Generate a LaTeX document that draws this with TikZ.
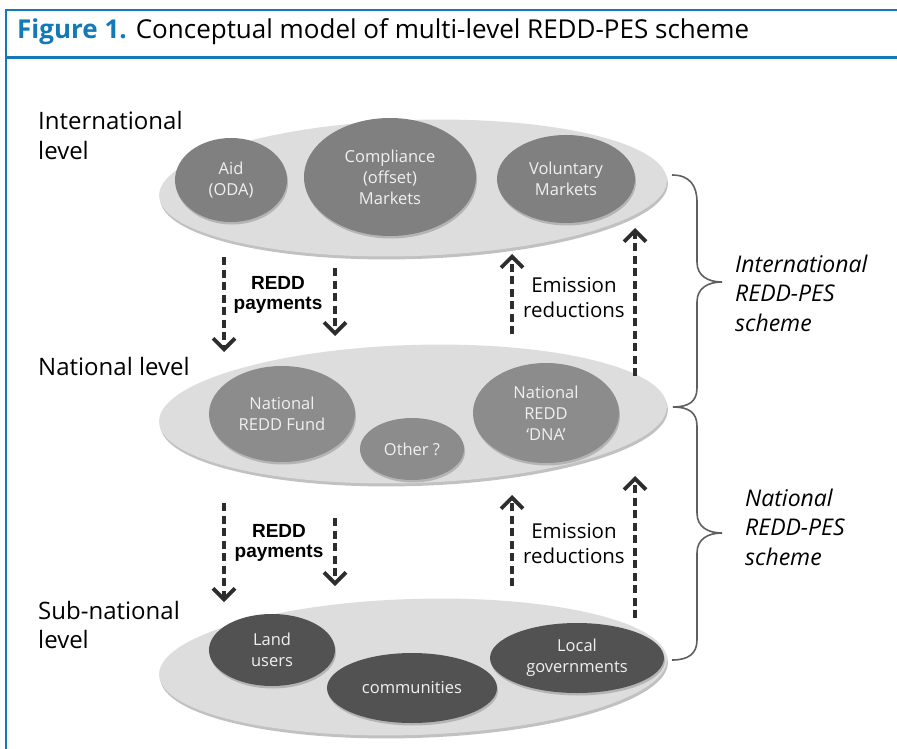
\documentclass[tikz,border=0pt]{standalone}
\usepackage{fontspec}
\setmainfont{Open Sans}
\newfontfamily\arialfont{Liberation Sans}
\usetikzlibrary{arrows.meta,shapes.geometric,shadows}
\definecolor{frameblue}{RGB}{18,122,184}
\definecolor{outerfill}{RGB}{221,221,221}
\definecolor{intlfill}{RGB}{128,128,128}
\definecolor{natlfill}{RGB}{140,140,140}
\definecolor{subfill}{RGB}{82,82,82}
\definecolor{arrowgray}{RGB}{45,45,45}
\definecolor{bracegray}{RGB}{95,95,95}
\definecolor{innertext}{RGB}{240,240,240}
\begin{document}
\begin{tikzpicture}[x=1pt,y=-1pt,
  outer/.style={ellipse, fill=outerfill, inner sep=0pt, rotate=1.8,
    drop shadow={shadow xshift=1pt, shadow yshift=-3pt, fill=black!40, opacity=0.6}},
  inner/.style={ellipse, inner sep=0pt, align=center, text=innertext,
    font=\fontsize{16.5}{21}\selectfont,
    drop shadow={shadow xshift=1pt, shadow yshift=-2.5pt, fill=black!45, opacity=0.5}},
  intlin/.style={inner, fill=intlfill},
  natlin/.style={inner, fill=natlfill},
  subin/.style={inner, fill=subfill},
  levellabel/.style={inner sep=0pt, align=left, font=\fontsize{24}{29.5}\selectfont},
  flowlabel/.style={inner sep=0pt, align=center, font=\fontsize{20.5}{25}\selectfont},
  paylabel/.style={inner sep=0pt, align=center, font=\arialfont\bfseries\fontsize{19}{19.5}\selectfont},
  schemelabel/.style={inner sep=0pt, align=left, font=\itshape\fontsize{23}{29.5}\selectfont},
  flow/.style={arrowgray, line width=3.6pt, dash pattern=on 8pt off 4.5pt,
    -{Straight Barb[length=11pt,width=22pt,line width=3.8pt]}},
  bracestyle/.style={bracegray, line width=1.6pt},
  frame/.style={frameblue, line width=2.8pt}
]
\useasboundingbox (0,0) rectangle (897,749);
\fill[white] (0,0) rectangle (897,749);

% frame
\draw[frame] (897,10) -- (6,10) -- (6,749);
\draw[frame] (6,57.5) -- (897,57.5);
\node[anchor=base west, inner sep=0pt, font=\fontsize{26}{30}\selectfont] (title) at (17,39)
  {\textcolor{frameblue}{\bfseries Figure 1.} Conceptual model of multi-level REDD-PES scheme};

% level labels
\node[levellabel, anchor=west] (lblintl) at (38,135.5) {International\\level};
\node[levellabel, anchor=base west] (lblnatl) at (38,375) {National level};
\node[levellabel, anchor=west] (lblsub) at (38,625) {Sub-national\\level};

% outer ellipses
\node[outer, minimum width=508pt, minimum height=136pt] (intl) at (413,188) {};
\node[outer, minimum width=508pt, minimum height=138pt] (natl) at (413,414) {};
\node[outer, minimum width=508pt, minimum height=136pt] (subn) at (413,667) {};

% international inner
\node[intlin, minimum width=112pt, minimum height=84pt] (aid) at (231,180) {Aid\\(ODA)};
\node[intlin, minimum width=172pt, minimum height=118pt] (comp) at (390,177) {Compliance\\(offset)\\Markets};
\node[intlin, minimum width=138pt, minimum height=88pt] (vol) at (566,179) {Voluntary\\Markets};

% national inner
\node[natlin, minimum width=146pt, minimum height=96pt] (fund) at (282,414) {National\\REDD Fund};
\node[natlin, minimum width=104pt, minimum height=62pt] (other) at (412,449) {Other ?};
\node[natlin, minimum width=146pt, minimum height=100pt] (dna) at (546,413) {National\\REDD\\`DNA'};

% sub-national inner
\node[subin, minimum width=126pt, minimum height=72pt] (land) at (272,650) {Land\\users};
\node[subin, minimum width=170pt, minimum height=70pt] (comm) at (412,688) {communities};
\node[subin, minimum width=174pt, minimum height=70pt] (locgov) at (577,658) {Local\\governments};

% arrows: international <-> national
\coordinate (a1s) at (224,257);
\coordinate (a1e) at (224,352);
\coordinate (a2s) at (335,268);
\coordinate (a2e) at (335,336);
\coordinate (u1s) at (512,334);
\coordinate (u1e) at (512,254);
\coordinate (u2s) at (635,376);
\coordinate (u2e) at (635,228);
\draw[flow] (a1s) -- (a1e);
\draw[flow] (a2s) -- (a2e);
\draw[flow] (u1s) -- (u1e);
\draw[flow] (u2s) -- (u2e);
\node[paylabel] (pay1) at (278,295) {REDD\\payments};
\node[flowlabel] (emi1) at (574,298) {Emission\\reductions};

% arrows: national <-> sub-national
\coordinate (a3s) at (224,503);
\coordinate (a3e) at (224,602);
\coordinate (a4s) at (335,518);
\coordinate (a4e) at (335,586);
\coordinate (u3s) at (512,586);
\coordinate (u3e) at (512,495);
\coordinate (u4s) at (635,618);
\coordinate (u4e) at (635,476);
\draw[flow] (a3s) -- (a3e);
\draw[flow] (a4s) -- (a4e);
\draw[flow] (u3s) -- (u3e);
\draw[flow] (u4s) -- (u4e);
\node[paylabel] (pay2) at (279,543) {REDD\\payments};
\node[flowlabel] (emi2) at (574,544) {Emission\\reductions};

% braces
\coordinate (b1top) at (672,175);
\coordinate (b1tip) at (722,282);
\coordinate (bmid) at (673,407);
\coordinate (b2tip) at (722,533);
\coordinate (b2bot) at (672,660);
\draw[bracestyle] (b1top) .. controls (690,175) and (697,186) .. (697,202)
  -- (697,262) .. controls (697,276) and (708,282) .. (b1tip)
  .. controls (708,282) and (697,288) .. (697,302)
  -- (697,388) .. controls (697,402) and (688,407) .. (bmid);
\draw[bracestyle] (bmid) .. controls (688,407) and (697,412) .. (697,426)
  -- (697,513) .. controls (697,527) and (708,533) .. (b2tip)
  .. controls (708,533) and (697,539) .. (697,553)
  -- (697,640) .. controls (697,654) and (688,660) .. (b2bot);

\node[schemelabel, anchor=west] (sch1) at (735,293) {International\\REDD-PES\\scheme};
\node[schemelabel, anchor=west] (sch2) at (745,527) {National\\REDD-PES\\scheme};
\end{tikzpicture}
\end{document}
